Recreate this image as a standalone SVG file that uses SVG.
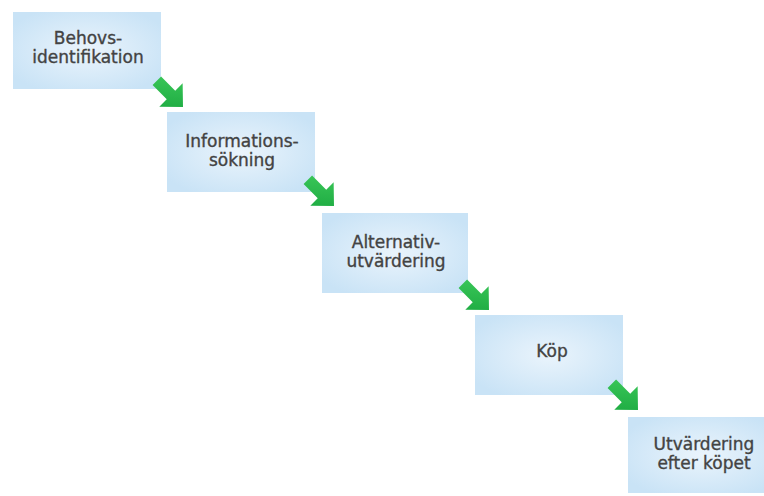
<svg xmlns="http://www.w3.org/2000/svg" width="764" height="496" viewBox="0 0 764 496">
  <defs>
    <radialGradient id="boxfill" cx="50%" cy="50%" r="60%">
      <stop offset="0" stop-color="#eaf4fc"/>
      <stop offset="1" stop-color="#c9e3f6"/>
    </radialGradient>
    <linearGradient id="arrowfill" x1="0" y1="0" x2="1" y2="1">
      <stop offset="0" stop-color="#3fcb5c"/>
      <stop offset="1" stop-color="#17a53d"/>
    </linearGradient>
    <polygon id="arr" points="0,-6 20,-6 20,-16.5 37,0 20,16.5 20,6 0,6"/>
  </defs>
  <style>
    .box { fill: url(#boxfill); }
    .lbl { font-family: "DejaVu Sans", "Liberation Sans", sans-serif; font-size: 17px; fill: #434343; stroke: #434343; stroke-width: 0.35; text-anchor: middle; }
    .arrow { fill: url(#arrowfill); }
  </style>
  <rect width="764" height="496" fill="#ffffff"/>

  <g id="node-behovsidentifikation">
    <rect class="box" x="13" y="12" width="148" height="77"/>
    <text class="lbl" x="88" y="44">Behovs-</text>
    <text class="lbl" x="88" y="63">identifikation</text>
  </g>
  <g id="node-informationssokning">
    <rect class="box" x="167" y="112" width="148" height="80"/>
    <text class="lbl" x="242" y="147">Informations-</text>
    <text class="lbl" x="242" y="166">sökning</text>
  </g>
  <g id="node-alternativutvardering">
    <rect class="box" x="322" y="213" width="146" height="80"/>
    <text class="lbl" x="396" y="248">Alternativ-</text>
    <text class="lbl" x="396" y="267">utvärdering</text>
  </g>
  <g id="node-kop">
    <rect class="box" x="475" y="315" width="148" height="80"/>
    <text class="lbl" x="552" y="357">Köp</text>
  </g>
  <g id="node-utvardering-efter-kopet">
    <rect class="box" x="628" y="417" width="148" height="76"/>
    <text class="lbl" x="704" y="450">Utvärdering</text>
    <text class="lbl" x="704" y="469">efter köpet</text>
  </g>

  <g id="connectors">
    <use href="#arr" class="arrow" transform="translate(183,107) rotate(45) translate(-37,0)"/>
    <use href="#arr" class="arrow" transform="translate(334,206) rotate(45) translate(-37,0)"/>
    <use href="#arr" class="arrow" transform="translate(489,310) rotate(45) translate(-37,0)"/>
    <use href="#arr" class="arrow" transform="translate(638,410) rotate(45) translate(-37,0)"/>
  </g>
</svg>
